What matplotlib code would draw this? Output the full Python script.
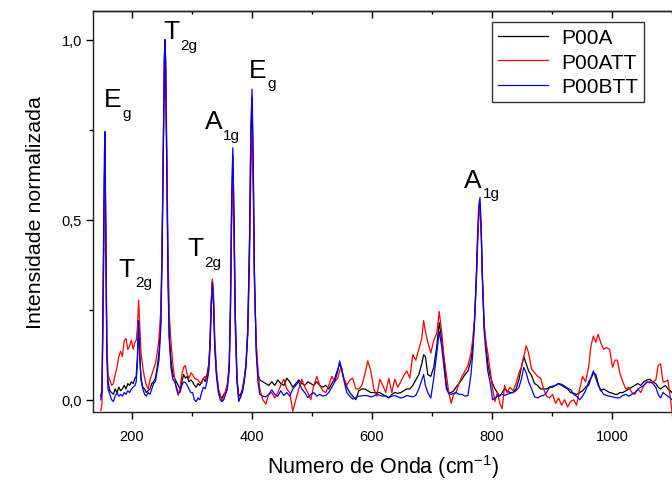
import matplotlib
matplotlib.use("Agg")
import matplotlib.pyplot as plt
from matplotlib.ticker import MultipleLocator, FuncFormatter

plt.rcParams["font.family"] = ["Liberation Sans", "DejaVu Sans"]
plt.rcParams["mathtext.fontset"] = "custom"
plt.rcParams["mathtext.rm"] = "Liberation Sans"
plt.rcParams["mathtext.default"] = "regular"

# Raman shift (cm-1) and normalised intensity
wavenumber = [
    148, 150, 152, 154, 155, 156, 158, 160, 163, 166,
    169, 172, 175, 178, 181, 184, 187, 190, 193, 196,
    199, 202, 205, 207, 209, 211, 213, 215, 218, 221,
    224, 227, 230, 233, 236, 239, 242, 245, 248, 250,
    252, 254, 255, 256, 258, 260, 262, 265, 268, 271,
    274, 277, 280, 283, 286, 289, 292, 295, 298, 301,
    304, 307, 310, 313, 316, 319, 322, 325, 328, 330,
    332, 334, 336, 338, 341, 344, 347, 350, 353, 356,
    359, 362, 364, 366, 368, 370, 372, 375, 378, 381,
    384, 387, 390, 393, 396, 398, 400, 402, 404, 407,
    410,
    413, 418, 423, 428, 433, 438, 443, 448, 453, 458,
    463, 468, 473, 478, 483, 488, 493, 498, 503, 508,
    513, 518, 523, 528, 533, 538, 543, 546, 549, 553,
    558, 563, 568, 573, 578, 583, 588, 593, 598, 603,
    608, 613, 618, 623, 628,
    633, 638, 643, 648, 653, 658, 663, 668, 673, 678,
    683, 686, 689, 693, 698, 703, 708, 712, 716, 720,
    724, 728, 732, 736, 740, 745, 750, 755, 760, 765,
    768, 771, 774, 776, 778, 780, 782, 784, 787, 790,
    793, 797, 801, 805, 809, 813, 817, 821, 825, 830,
    835, 840, 845, 849, 853, 857, 861, 866, 871, 876,
    881, 886, 891, 896, 901, 906, 911, 916, 921, 926,
    931, 936, 941, 946, 951, 956, 961, 965, 969, 973,
    977, 981, 986, 991, 996, 1001, 1005, 1009, 1013, 1018,
    1023, 1028, 1033, 1038, 1043, 1048, 1053, 1058, 1063, 1068,
    1073, 1077, 1081, 1085, 1089, 1093, 1097, 1100,
]

p00a = [
    0.01, 0.03, 0.30, 0.62, 0.70, 0.52, 0.15, 0.05, 0.025, 0.02,
    0.015, 0.03, 0.02, 0.035, 0.025, 0.03, 0.04, 0.03, 0.045, 0.04,
    0.05, 0.045, 0.06, 0.065, 0.12, 0.22, 0.12, 0.06, 0.035, 0.03,
    0.02, 0.025, 0.03, 0.045, 0.05, 0.06, 0.09, 0.13, 0.22, 0.40,
    0.68, 0.95, 1.0, 0.94, 0.65, 0.36, 0.18, 0.11, 0.07, 0.06,
    0.05, 0.04, 0.03, 0.05, 0.07, 0.06, 0.065, 0.05, 0.055, 0.05,
    0.04, 0.035, 0.045, 0.04, 0.05, 0.06, 0.05, 0.07, 0.10, 0.16,
    0.27, 0.33, 0.27, 0.15, 0.07, 0.03, 0.01, 0.005, 0.015, 0.02,
    0.04, 0.10, 0.25, 0.52, 0.68, 0.50, 0.24, 0.06, 0.01, 0.015,
    0.03, 0.06, 0.10, 0.20, 0.45, 0.72, 0.84, 0.65, 0.35, 0.15,
    0.07,
    0.055, 0.05, 0.045, 0.04, 0.05, 0.04, 0.055, 0.045, 0.04, 0.06,
    0.05, 0.035, 0.045, 0.055, 0.045, 0.04, 0.05, 0.045, 0.04, 0.05,
    0.04, 0.035, 0.04, 0.03, 0.045, 0.06, 0.085, 0.10, 0.085, 0.06,
    0.035, 0.02, 0.01, 0.0, 0.025, 0.03, 0.03, 0.025, 0.02, 0.02,
    0.02, 0.02, 0.015, 0.01, 0.005,
    0.015, 0.02, 0.018, 0.02, 0.025, 0.03, 0.03, 0.04, 0.055, 0.07,
    0.1, 0.125, 0.12, 0.07, 0.065, 0.09, 0.15, 0.215, 0.17, 0.11,
    0.04, 0.02, 0.02, 0.025, 0.035, 0.045, 0.057, 0.07, 0.08, 0.11,
    0.15, 0.22, 0.34, 0.44, 0.52, 0.545, 0.47, 0.34, 0.2, 0.15,
    0.1, 0.067, 0.045, 0.03, 0.02, 0.01, 0.02, 0.03, 0.025, 0.02,
    0.02, 0.03, 0.057, 0.09, 0.12, 0.1, 0.08, 0.067, 0.045, 0.04,
    0.03, 0.03, 0.03, 0.035, 0.035, 0.04, 0.045, 0.04, 0.035, 0.03,
    0.02, 0.018, 0.015, 0.02, 0.025, 0.035, 0.04, 0.06, 0.075, 0.07,
    0.045, 0.025, 0.03, 0.025, 0.02, 0.018, 0.015, 0.015, 0.02, 0.02,
    0.025, 0.03, 0.035, 0.04, 0.045, 0.04, 0.05, 0.055, 0.057, 0.05,
    0.045, 0.035, 0.03, 0.035, 0.04, 0.03, 0.025, 0.02,
]

p00att = [
    -0.03, -0.01, 0.25, 0.58, 0.66, 0.50, 0.18, 0.07, 0.055, 0.04,
    0.045, 0.07, 0.09, 0.12, 0.135, 0.12, 0.165, 0.17, 0.14, 0.15,
    0.165, 0.14, 0.16, 0.165, 0.20, 0.277, 0.20, 0.13, 0.09, 0.06,
    0.04, 0.03, 0.055, 0.07, 0.085, 0.10, 0.13, 0.17, 0.25, 0.42,
    0.68, 0.94, 1.0, 0.95, 0.70, 0.42, 0.24, 0.16, 0.10, 0.06,
    0.03, 0.012, 0.03, 0.07, 0.09, 0.095, 0.07, 0.06, 0.075, 0.07,
    0.06, 0.057, 0.055, 0.048, 0.045, 0.06, 0.065, 0.055, 0.09, 0.16,
    0.27, 0.335, 0.29, 0.17, 0.08, 0.03, 0.015, -0.005, 0.01, 0.025,
    0.045, 0.09, 0.22, 0.48, 0.627, 0.45, 0.20, 0.05, 0.0, 0.005,
    0.025, 0.05, 0.10, 0.18, 0.40, 0.62, 0.745, 0.58, 0.32, 0.16,
    0.08,
    0.03, 0.0, -0.012, 0.015, 0.02, 0.005, 0.02, 0.04, 0.057, 0.03,
    0.02, -0.032, 0.0, 0.03, 0.057, 0.035, 0.02, 0.0, 0.04, 0.065,
    0.04, 0.025, 0.02, 0.04, 0.065, 0.05, 0.06, 0.08, 0.09, 0.06,
    0.04, 0.055, 0.06, 0.03, 0.03, 0.04, 0.07, 0.108, 0.08, 0.03,
    0.01, 0.057, 0.04, 0.02, 0.06,
    0.02, 0.057, 0.035, 0.05, 0.067, 0.08, 0.06, 0.125, 0.11, 0.14,
    0.17, 0.22, 0.19, 0.16, 0.13, 0.165, 0.185, 0.245, 0.19, 0.12,
    0.07, 0.02, -0.01, 0.015, 0.02, 0.045, 0.065, 0.08, 0.095, 0.13,
    0.17, 0.23, 0.33, 0.43, 0.51, 0.535, 0.46, 0.34, 0.21, 0.16,
    0.13, 0.08, 0.03, -0.005, 0.02, -0.01, -0.025, 0.04, 0.02, 0.035,
    0.025, 0.045, 0.075, 0.09, 0.12, 0.15, 0.13, 0.085, 0.075, 0.065,
    0.06, 0.03, 0.01, 0.005, 0.015, -0.01, 0.005, -0.015, 0.0, -0.02,
    -0.005, 0.0, -0.015, 0.03, 0.065, 0.05, 0.09, 0.15, 0.177, 0.16,
    0.182, 0.16, 0.14, 0.145, 0.14, 0.09, 0.11, 0.11, 0.075, 0.05,
    0.03, 0.035, 0.02, 0.015, 0.03, 0.02, 0.04, 0.05, 0.047, 0.05,
    0.055, 0.095, 0.1, 0.05, 0.05, 0.055, 0.01, -0.035,
]

p00btt = [
    0.0, 0.02, 0.35, 0.68, 0.745, 0.55, 0.12, 0.03, 0.015, 0.0,
    -0.005, 0.01, 0.02, 0.01, 0.015, 0.01, 0.02, 0.015, 0.025, 0.02,
    0.03, 0.035, 0.04, 0.05, 0.10, 0.218, 0.12, 0.055, 0.03, 0.015,
    0.01, 0.02, 0.015, 0.03, 0.045, 0.05, 0.08, 0.11, 0.2, 0.38,
    0.66, 0.95, 1.0, 0.93, 0.62, 0.33, 0.17, 0.09, 0.057, 0.05,
    0.035, 0.02, 0.02, 0.04, 0.05, 0.048, 0.04, 0.03, 0.02, 0.02,
    0.0, -0.005, 0.005, 0.0, 0.02, 0.035, 0.03, 0.05, 0.08, 0.14,
    0.25, 0.325, 0.26, 0.14, 0.06, 0.02, 0.0, -0.005, 0.0, 0.015,
    0.03, 0.08, 0.25, 0.55, 0.70, 0.52, 0.25, 0.05, -0.005, 0.01,
    0.02, 0.05, 0.09, 0.19, 0.45, 0.75, 0.863, 0.68, 0.36, 0.13,
    0.05,
    0.015, 0.01, 0.008, 0.015, 0.028, 0.015, 0.01, 0.025, 0.012, 0.02,
    0.01, 0.03, 0.04, 0.05, 0.03, 0.02, 0.006, 0.015, 0.02, 0.01,
    0.015, 0.01, 0.012, 0.02, 0.035, 0.05, 0.08, 0.108, 0.09, 0.055,
    0.02, 0.01, 0.002, 0.006, 0.01, 0.011, 0.012, 0.011, 0.008, 0.01,
    0.016, 0.012, 0.01, 0.011, 0.006,
    0.01, 0.012, 0.008, 0.005, 0.007, 0.012, 0.01, 0.008, 0.012, 0.03,
    0.055, 0.07, 0.04, 0.02, 0.005, 0.06, 0.13, 0.19, 0.15, 0.09,
    0.03, 0.017, 0.015, 0.018, 0.02, 0.015, 0.015, 0.01, 0.012, 0.07,
    0.13, 0.22, 0.35, 0.46, 0.54, 0.562, 0.48, 0.34, 0.19, 0.13,
    0.08, 0.047, 0.0, 0.005, 0.01, 0.012, 0.015, 0.012, 0.015, 0.018,
    0.02, 0.025, 0.035, 0.057, 0.09, 0.075, 0.05, 0.03, 0.008, 0.005,
    0.01, 0.012, 0.02, 0.035, 0.038, 0.04, 0.045, 0.043, 0.038, 0.032,
    0.028, 0.015, 0.01, 0.0, 0.01, 0.025, 0.05, 0.06, 0.08, 0.06,
    0.04, 0.028, 0.015, 0.012, 0.01, 0.008, 0.006, 0.005, 0.006, 0.012,
    0.015, 0.01, 0.015, 0.02, 0.028, 0.035, 0.04, 0.048, 0.05, 0.045,
    0.035, 0.015, 0.005, 0.02, 0.015, 0.01, 0.005, 0.0,
]

series_names = ["P00A", "P00ATT", "P00BTT"]

# mode labels: (letter, subscript, x, y)
mode_letters = ["E", "T", "T", "T", "A", "E", "A"]
mode_subs = ["g", "2g", "2g", "2g", "1g", "g", "1g"]
mode_x = [153, 177, 252, 292, 321, 394.5, 754]
mode_y = [0.816, 0.344, 1.004, 0.402, 0.754, 0.898, 0.592]

assert len(wavenumber) == len(p00a) == len(p00att) == len(p00btt)

fig = plt.figure(figsize=(6.72, 4.81), dpi=100)
ax = fig.add_axes([93 / 672, 68 / 481, 580 / 672, 401 / 481])

for y, name, c in zip([p00a, p00att, p00btt], series_names, ["black", "red", "blue"]):
    ax.plot(wavenumber, y, color=c, lw=0.9, label=name)

ax.set_xlim(135, 1101.7)
ax.set_ylim(-0.034, 1.08)

ax.xaxis.set_major_locator(MultipleLocator(200))
ax.xaxis.set_minor_locator(MultipleLocator(100))
ax.yaxis.set_major_locator(MultipleLocator(0.5))
ax.yaxis.set_minor_locator(MultipleLocator(0.25))
ax.yaxis.set_major_formatter(FuncFormatter(lambda v, p: f"{v:.1f}".replace(".", ",")))

ax.tick_params(which="major", direction="out", length=5, width=1, labelsize=10.5)
ax.tick_params(which="minor", direction="out", length=3, width=1)
ax.tick_params(axis="x", which="major", pad=7)
ax.tick_params(axis="y", which="major", pad=3)

top = ax.secondary_xaxis("top")
top.xaxis.set_major_locator(MultipleLocator(200))
top.xaxis.set_minor_locator(MultipleLocator(100))
top.tick_params(which="major", direction="in", length=5, width=1, labeltop=False)
top.tick_params(which="minor", direction="in", length=2.5, width=1)

for s in ax.spines.values():
    s.set_linewidth(1.0)
    s.set_color("#222222")
top.spines["top"].set_linewidth(1.0)
top.spines["top"].set_color("#222222")

ax.set_xlabel("Numero de Onda (cm$^{-1}$)", fontsize=15.5, labelpad=7)
ax.set_ylabel("Intensidade normalizada", fontsize=15.4, labelpad=12)

for letter, sub, x, y in zip(mode_letters, mode_subs, mode_x, mode_y):
    t = ax.text(x, y, letter, fontsize=19, ha="left", va="baseline")
    ax.annotate(sub, xy=(1, 0), xycoords=t, xytext=(0.8, -4),
                textcoords="offset points", fontsize=11, ha="left", va="baseline")

leg = ax.legend(loc="upper right", bbox_to_anchor=(0.95, 0.972), borderaxespad=0,
                fontsize=15, fancybox=False, framealpha=1, handlelength=2.4,
                handletextpad=0.6, labelspacing=0.25, borderpad=0.3)
leg.get_frame().set_edgecolor("#333333")
leg.get_frame().set_linewidth(1.0)

fig.savefig("out.png", dpi=100)
